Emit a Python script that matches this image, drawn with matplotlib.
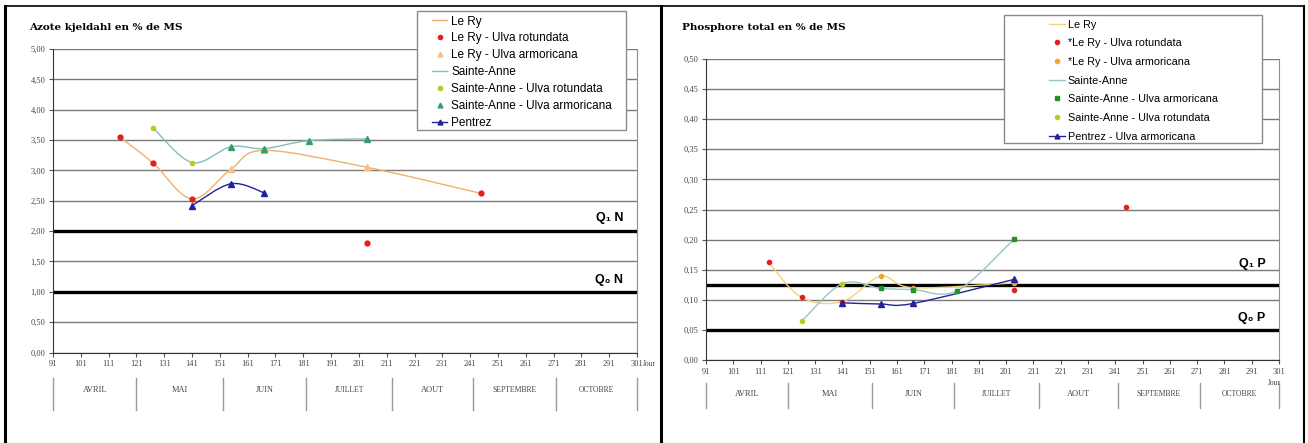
import numpy as np
import matplotlib
matplotlib.use('Agg')
import matplotlib.pyplot as plt
from matplotlib.path import Path
from matplotlib.patches import PathPatch, Rectangle
from matplotlib.lines import Line2D
from matplotlib.ticker import FuncFormatter
import matplotlib.transforms as mtransforms

plt.rcParams['font.family'] = ['Liberation Serif', 'DejaVu Serif']

# ---- data: Azote kjeldahl (% MS) ----
n_lery_days = [115, 127, 141, 155, 167, 204, 245]
n_lery_vals = [3.55, 3.12, 2.53, 3.02, 3.33, 3.05, 2.62]
n_lery_rot_days = [115, 127, 141, 204, 245]
n_lery_rot_vals = [3.55, 3.12, 2.53, 1.80, 2.62]
n_lery_arm_days = [155, 167, 204]
n_lery_arm_vals = [3.02, 3.33, 3.05]
n_sa_days = [127, 141, 155, 167, 183, 204]
n_sa_vals = [3.70, 3.13, 3.39, 3.36, 3.49, 3.52]
n_sa_rot_days = [127, 141]
n_sa_rot_vals = [3.70, 3.13]
n_sa_arm_days = [155, 167, 183, 204]
n_sa_arm_vals = [3.39, 3.36, 3.49, 3.52]
n_pen_days = [141, 155, 167]
n_pen_vals = [2.42, 2.78, 2.63]

# ---- data: Phosphore total (% MS) ----
p_lery_days = [114, 126, 141, 155, 167, 204]
p_lery_vals = [0.162, 0.104, 0.097, 0.139, 0.120, 0.128]
p_lery_rot_days = [114, 126, 141, 204, 245]
p_lery_rot_vals = [0.162, 0.104, 0.097, 0.117, 0.254]
p_lery_arm_days = [155, 167, 204]
p_lery_arm_vals = [0.139, 0.120, 0.128]
p_sa_days = [126, 141, 155, 167, 183, 204]
p_sa_vals = [0.064, 0.127, 0.119, 0.117, 0.115, 0.201]
p_sa_arm_days = [155, 167, 183, 204]
p_sa_arm_vals = [0.119, 0.117, 0.115, 0.201]
p_sa_rot_days = [126, 141]
p_sa_rot_vals = [0.064, 0.127]
p_pen_days = [141, 155, 167, 204]
p_pen_vals = [0.095, 0.093, 0.094, 0.134]

# thresholds
q_n = [2.0, 1.0]
q_p = [0.125, 0.05]

# axis text
day_ticks = list(range(91, 302, 10))
month_names = ['AVRIL', 'MAI', 'JUIN', 'JUILLET', 'AOUT', 'SEPTEMBRE', 'OCTOBRE']
month_edges = [91, 121, 152, 182, 213, 242, 272, 301]

legend_n = ['Le Ry', 'Le Ry - Ulva rotundata', 'Le Ry - Ulva armoricana', 'Sainte-Anne',
            'Sainte-Anne - Ulva rotundata', 'Sainte-Anne - Ulva armoricana', 'Pentrez']
legend_p = ['Le Ry', '*Le Ry - Ulva rotundata', '*Le Ry - Ulva armoricana', 'Sainte-Anne',
            'Sainte-Anne - Ulva armoricana', 'Sainte-Anne - Ulva rotundata', 'Pentrez - Ulva armoricana']

red = '#e02020'
blue = '#22229a'
ygreen = '#b8cc20'

W, H = 1308, 443
fig = plt.figure(figsize=(W / 100, H / 100), dpi=100)


def smooth_line(ax, x, y, color, lw=1.0, z=3):
    # excel-like smoothed line, drawn as a bezier path in data coordinates
    pts = np.column_stack([x, y]).astype(float)
    n = len(pts)
    verts = [pts[0]]
    codes = [Path.MOVETO]
    for i in range(n - 1):
        p0 = pts[max(i - 1, 0)]
        p1 = pts[i]
        p2 = pts[i + 1]
        p3 = pts[min(i + 2, n - 1)]
        verts += [p1 + (p2 - p0) / 6, p2 - (p3 - p1) / 6, p2]
        codes += [Path.CURVE4] * 3
    ax.add_patch(PathPatch(Path(verts, codes), fill=False, edgecolor=color, lw=lw, zorder=z))


def setup_axes(ax, ymax, ystep, q_vals, q_labels, q_y, month_y, sep_y, fmt):
    ax.set_xlim(91, 301)
    ax.set_ylim(0, ymax)
    ax.set_yticks(np.arange(0, ymax + ystep / 2, ystep))
    ax.yaxis.set_major_formatter(FuncFormatter(lambda v, p: fmt.format(v).replace('.', ',')))
    ax.set_xticks(day_ticks)
    ax.set_xticklabels([str(d) for d in day_ticks])
    ax.grid(axis='y', color='#7a7a7a', lw=1.0)
    ax.set_axisbelow(True)
    ax.tick_params(direction='out', length=3, width=0.8, color='#555555',
                   labelsize=6, labelcolor='#444444', pad=2.5)
    ax.spines['top'].set_visible(False)
    ax.spines['right'].set_color('#909090')
    ax.spines['left'].set_color('#333333')
    ax.spines['bottom'].set_color('#333333')
    for v in q_vals:
        ax.axhline(v, color='black', lw=2.4, zorder=2)
    for lab, yy in zip(q_labels, q_y):
        ax.text(296, yy, lab, ha='right', va='center', fontsize=9, fontweight='bold',
                family=['Liberation Sans', 'DejaVu Sans'])
    trans = mtransforms.blended_transform_factory(ax.transData, ax.transAxes)
    for e in month_edges:
        ax.plot([e, e], sep_y, color='#9a9a9a', lw=1, transform=trans, clip_on=False)
    for i, m in enumerate(month_names):
        c = (month_edges[i] + month_edges[i + 1]) / 2
        ax.text(c, month_y, m, ha='center', va='center', fontsize=5.5 if len(m) > 6 else 6,
                color='#444444', transform=trans)


# ---------------- left panel : azote ----------------
axL = fig.add_axes([53 / W, (H - 352.5) / H, 584 / W, 303.5 / H])
setup_axes(axL, 5.0, 0.5, q_n, ['Q₁ N', 'Q₀ N'], [2.22, 1.20], -0.124, [-0.084, -0.189], '{:.2f}')

smooth_line(axL, n_lery_days, n_lery_vals, '#f0b070')
smooth_line(axL, n_sa_days, n_sa_vals, '#80c0c0')
smooth_line(axL, n_pen_days, n_pen_vals, blue)
axL.plot(n_lery_rot_days, n_lery_rot_vals, ls='none', marker='o', ms=3.5, color=red, zorder=4)
axL.plot(n_lery_arm_days, n_lery_arm_vals, ls='none', marker='^', ms=4, color='#f5c080', zorder=4)
axL.plot(n_sa_rot_days, n_sa_rot_vals, ls='none', marker='o', ms=3, color=ygreen, zorder=4)
axL.plot(n_sa_arm_days, n_sa_arm_vals, ls='none', marker='^', ms=4, color='#3a9a6a', zorder=4)
axL.plot(n_pen_days, n_pen_vals, ls='none', marker='^', ms=4, color=blue, zorder=5)
axL.text(303, -0.038, 'Jour', transform=mtransforms.blended_transform_factory(axL.transData, axL.transAxes),
         ha='left', va='center', fontsize=5.5, color='#444444')

# ---------------- right panel : phosphore ----------------
axR = fig.add_axes([706 / W, (H - 360) / H, 573 / W, 301 / H])
setup_axes(axR, 0.5, 0.05, q_p, ['Q₁ P', 'Q₀ P'], [0.160, 0.070], -0.113, [-0.076, -0.159], '{:.2f}')

smooth_line(axR, p_lery_days, p_lery_vals, '#f2d470')
smooth_line(axR, p_sa_days, p_sa_vals, '#98c4cc')
smooth_line(axR, p_pen_days, p_pen_vals, blue)
axR.plot(p_lery_rot_days, p_lery_rot_vals, ls='none', marker='o', ms=3, color=red, zorder=4)
axR.plot(p_lery_arm_days, p_lery_arm_vals, ls='none', marker='o', ms=3, color='#f5a630', zorder=4)
axR.plot(p_sa_arm_days, p_sa_arm_vals, ls='none', marker='s', ms=3.5, color='#22922a', zorder=4)
axR.plot(p_sa_rot_days, p_sa_rot_vals, ls='none', marker='o', ms=3, color=ygreen, zorder=4)
axR.plot(p_pen_days, p_pen_vals, ls='none', marker='^', ms=4, color=blue, zorder=5)
axR.text(299.5, -0.078, 'Jour', transform=mtransforms.blended_transform_factory(axR.transData, axR.transAxes),
         ha='center', va='center', fontsize=5.5, color='#444444')

# ---------------- titles ----------------
fig.text(29 / W, 1 - 27 / H, 'Azote kjeldahl en % de MS', fontsize=7.5, fontweight='bold',
         family='DejaVu Serif', va='center')
fig.text(682 / W, 1 - 27 / H, 'Phosphore total en % de MS', fontsize=7.5, fontweight='bold',
         family='DejaVu Serif', va='center')

# ---------------- legends ----------------
handles_n = [Line2D([], [], color='#f0b070', lw=1),
             Line2D([], [], ls='none', marker='o', ms=3, color=red),
             Line2D([], [], ls='none', marker='^', ms=3.5, color='#f5c080'),
             Line2D([], [], color='#80c0c0', lw=1),
             Line2D([], [], ls='none', marker='o', ms=3, color=ygreen),
             Line2D([], [], ls='none', marker='^', ms=3.5, color='#3a9a6a'),
             Line2D([], [], color=blue, lw=1, marker='^', ms=3.5)]
handles_p = [Line2D([], [], color='#f2d470', lw=1),
             Line2D([], [], ls='none', marker='o', ms=3, color=red),
             Line2D([], [], ls='none', marker='o', ms=3, color='#f5a630'),
             Line2D([], [], color='#98c4cc', lw=1),
             Line2D([], [], ls='none', marker='s', ms=3, color='#22922a'),
             Line2D([], [], ls='none', marker='o', ms=3, color=ygreen),
             Line2D([], [], color=blue, lw=1, marker='^', ms=3.5)]

fig.add_artist(Rectangle((417 / W, 1 - 130 / H), 209 / W, 119 / H, transform=fig.transFigure,
                         facecolor='white', edgecolor='#8a8a8a', lw=1, zorder=2))
fig.add_artist(Rectangle((1004 / W, 1 - 143 / H), 258 / W, 128 / H, transform=fig.transFigure,
                         facecolor='white', edgecolor='#8a8a8a', lw=1, zorder=2))

fig.legend(handles_n, legend_n, loc='upper left', bbox_to_anchor=(432 / W, 1 - 15.5 / H),
           frameon=False, borderpad=0, borderaxespad=0, handlelength=1.3, handletextpad=0.35,
           labelspacing=0.42, prop={'family': 'Liberation Sans', 'size': 8.5})
fig.legend(handles_p, legend_p, loc='upper left', bbox_to_anchor=(1049 / W, 1 - 19.5 / H),
           frameon=False, borderpad=0, borderaxespad=0, handlelength=1.45, handletextpad=0.3,
           labelspacing=0.8, prop={'family': 'Liberation Sans', 'size': 7.8})

# ---------------- panel frames ----------------
fig.add_artist(Line2D([5 / W, 5 / W], [0, 1 - 6 / H], color='black', lw=2.2))
fig.add_artist(Line2D([661 / W, 661 / W], [0, 1 - 6 / H], color='black', lw=2.2))
fig.add_artist(Line2D([1304 / W, 1304 / W], [0, 1 - 6 / H], color='black', lw=1.5))
fig.add_artist(Line2D([5 / W, 1304 / W], [1 - 6 / H, 1 - 6 / H], color='black', lw=1.2))

fig.savefig('out.png', dpi=100)
